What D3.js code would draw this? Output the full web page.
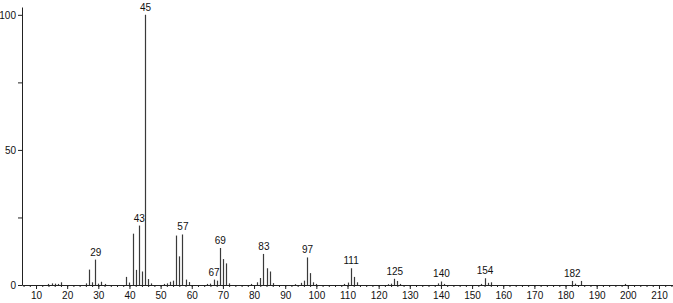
<!DOCTYPE html>
<html>
<head>
<meta charset="utf-8">
<script src="https://cdn.jsdelivr.net/npm/d3@7"></script>
<style>
  body { margin: 0; background: #fff; }
  svg { display: block; }
  text { font-family: "Liberation Sans", Arial, sans-serif; fill: #111; }
</style>
</head>
<body>
<svg id="root" width="673" height="303"></svg>
<script>
const width = 673
const height = 303

// m/z values and relative intensities (%)
const mz = [14, 15, 16, 17, 18, 26, 27, 28, 29, 30, 31, 32,
  39, 40, 41, 42, 43, 44, 45, 46, 47,
  51, 52, 53, 54, 55, 56, 57, 58, 59,
  65, 66, 67, 68, 69, 70, 71, 72,
  79, 81, 82, 83, 84, 85, 86,
  93, 95, 96, 97, 98, 99, 100,
  109, 110, 111, 112, 113,
  123, 124, 125, 126, 127,
  139, 140, 141,
  153, 154, 155, 156,
  182, 183, 185, 199]
const intensity = [0.4, 0.6, 0.5, 0.4, 1.0, 0.6, 5.7, 1.0, 9.4, 0.5, 1.2, 0.4,
  3.0, 0.9, 19.0, 5.6, 22.0, 5.0, 100, 2.2, 0.6,
  0.4, 0.6, 1.2, 1.6, 18.3, 10.6, 18.7, 2.0, 1.1,
  0.4, 0.5, 2.0, 1.6, 13.7, 9.6, 8.0, 0.6,
  0.4, 1.0, 2.6, 11.5, 6.2, 5.0, 0.7,
  0.3, 0.8, 1.6, 10.2, 4.4, 1.0, 0.4,
  0.4, 0.9, 6.2, 3.0, 1.0,
  0.3, 0.5, 2.3, 1.5, 0.4,
  0.6, 1.3, 0.4,
  0.4, 2.5, 0.8, 1.0,
  1.5, 0.5, 1.5, 0.4]

// peaks that carry a label
const labeled = [29, 43, 45, 57, 67, 69, 83, 97, 111, 125, 140, 154, 182]

const xMajor = d3.range(10, 211, 10)
const xMinor = d3.range(6, 215, 2)
const yTicks = [0, 25, 50, 75, 100]
const yLabels = [0, 50, 100]

const peaks = mz.map((d, i) => ({ mz: d, val: intensity[i] }))

const svg = d3.select('#root')

const xScale = d3.scaleLinear()
  .domain([5.5, 214.5])
  .range([22, 673])

const yScale = d3.scaleLinear()
  .domain([0, 102.9])
  .range([285, 7])

// bars
svg.selectAll('line.peak')
  .data(peaks)
  .enter()
  .append('line')
  .attr('class', 'peak')
  .attr('x1', d => Math.round(xScale(d.mz)) + 0.5)
  .attr('x2', d => Math.round(xScale(d.mz)) + 0.5)
  .attr('y1', yScale(0))
  .attr('y2', d => yScale(d.val))
  .attr('stroke', '#3a3a3a')
  .attr('stroke-width', 1.2)

// peak labels
svg.selectAll('text.peak-label')
  .data(peaks.filter(d => labeled.includes(d.mz)))
  .enter()
  .append('text')
  .attr('class', 'peak-label')
  .attr('text-anchor', 'middle')
  .attr('font-size', 10)
  .attr('x', d => xScale(d.mz) + 0.5)
  .attr('y', d => yScale(d.val) - 4)
  .text(d => d.mz)

// x axis: minor ticks
svg.append('g')
  .attr('transform', `translate(0, ${yScale(0)})`)
  .call(d3.axisBottom(xScale).tickValues(xMinor).tickSize(2).tickFormat(''))
  .call(g => g.select('.domain').remove())
  .selectAll('line').attr('stroke', '#222')

// x axis: major ticks and labels
const xAxis = d3.axisBottom(xScale)
  .tickValues(xMajor)
  .tickSize(4)
  .tickSizeOuter(0)
  .tickPadding(3)

svg.append('g')
  .attr('class', 'x axis')
  .attr('transform', `translate(0, ${yScale(0)})`)
  .call(xAxis)
  .call(g => g.select('.domain').attr('stroke', '#222'))
  .call(g => g.selectAll('line').attr('stroke', '#222'))
  .selectAll('text')
  .attr('font-size', 10)
  .attr('font-family', '"Liberation Sans", Arial, sans-serif')
  .attr('fill', '#111')

// y axis
const yAxis = d3.axisLeft(yScale)
  .tickValues(yTicks)
  .tickSize(4)
  .tickSizeOuter(0)
  .tickPadding(2)
  .tickFormat(d => yLabels.includes(d) ? d : '')

svg.append('g')
  .attr('class', 'y axis')
  .attr('transform', `translate(${xScale(5.5)}, 0)`)
  .call(yAxis)
  .call(g => g.select('.domain').attr('stroke', '#222'))
  .call(g => g.selectAll('line').attr('stroke', '#222'))
  .selectAll('text')
  .attr('font-size', 10)
  .attr('font-family', '"Liberation Sans", Arial, sans-serif')
  .attr('fill', '#111')
</script>
</body>
</html>
